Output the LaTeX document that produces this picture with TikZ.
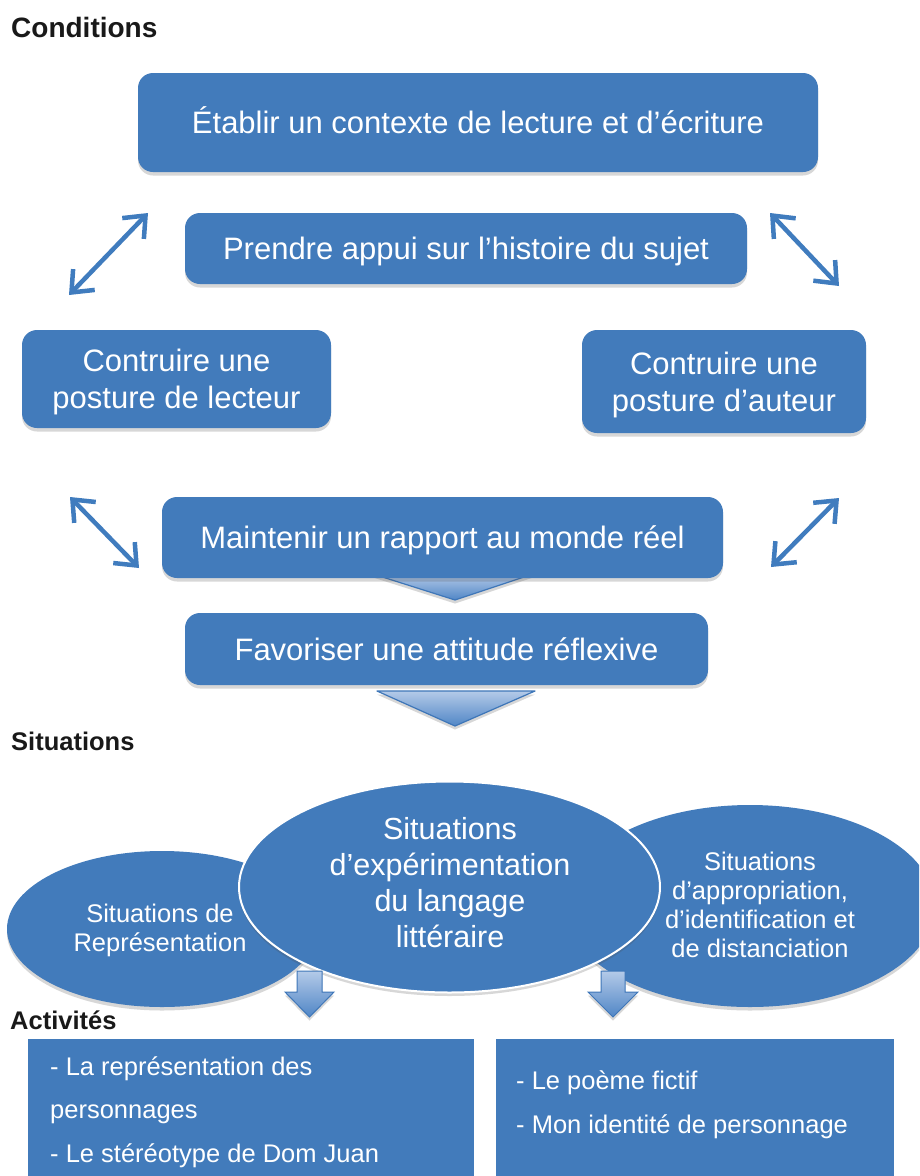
\documentclass[tikz,border=0pt]{standalone}
\usepackage{fontspec}
\setmainfont{Liberation Sans}
\usetikzlibrary{shapes.geometric,shadows,arrows.meta}
\definecolor{boxblue}{RGB}{66,123,187}
\definecolor{arrblue}{RGB}{64,124,190}
\definecolor{chevtop}{RGB}{180,202,232}
\definecolor{chevbot}{RGB}{80,134,198}
\definecolor{chevline}{RGB}{62,118,184}
\begin{document}
\begin{tikzpicture}[x=1pt,y=-1pt,
  softshadow/.style={drop shadow={shadow xshift=0pt,shadow yshift=-3.5pt,opacity=0.22,fill=black!70}},
  mainbox/.style={fill=boxblue, rounded corners=15pt, text=white, inner sep=0pt,
    font=\fontsize{31}{37}\selectfont, align=center, text depth=0pt, softshadow},
  oneline/.style={text height=22.3pt},
  sectlabel/.style={anchor=base west, inner sep=0pt, font=\bfseries\fontsize{25.5}{30}\selectfont, text=black!90},
  ellbox/.style={ellipse, fill=boxblue, inner sep=0pt, softshadow},
  elltext/.style={text=white, align=center, inner sep=0pt},
  actbox/.style={fill=boxblue, draw=none, softshadow},
  acttext/.style={anchor=base west, inner sep=0pt, text=white, font=\fontsize{25.5}{30}\selectfont},
  dblarrow/.style={arrblue, line width=4.5pt,
    {Straight Barb[length=18pt,width=30pt]}-{Straight Barb[length=18pt,width=30pt]}},
  chevron/.style={top color=chevtop, bottom color=chevbot, draw=chevline, line width=1.2pt, line join=round, softshadow},
  blockarrow/.style={top color=chevtop, bottom color=chevbot, draw=chevline, line width=1pt, softshadow}
]
\clip (0,0) rectangle (919,1176);
\fill[white] (0,0) rectangle (919,1176);

% section labels
\node[sectlabel, font=\bfseries\fontsize{28}{32}\selectfont] (lcond) at (11,37) {Conditions};
\node[sectlabel] (lsit) at (11,750) {Situations};
\node[sectlabel] (lact) at (10,1029) {Activités};

% chevrons (behind boxes)
\path[chevron] (373,574) -- (533,574) -- (455,600) -- cycle;
\path[chevron] (377,691) -- (535,691) -- (455,726) -- cycle;

% condition boxes
\node[mainbox, oneline, minimum width=680pt, minimum height=99pt] (b1) at (478,122.5)
  {Établir un contexte de lecture et d’écriture};
\node[mainbox, oneline, minimum width=562pt, minimum height=71pt] (b2) at (466,248.5)
  {Prendre appui sur l’histoire du sujet};
\node[mainbox, minimum width=309pt, minimum height=98pt] (b3) at (176.5,379)
  {Contruire une\\posture de lecteur};
\node[mainbox, minimum width=284pt, minimum height=103pt] (b4) at (724,381.5)
  {Contruire une\\posture d’auteur};
\node[mainbox, oneline, minimum width=561pt, minimum height=81pt] (b5) at (442.5,537.5)
  {Maintenir un rapport au monde réel};
\node[mainbox, oneline, minimum width=523pt, minimum height=72pt] (b6) at (446.5,649)
  {Favoriser une attitude réflexive};

% double arrows
\coordinate (a1s) at (148,213); \coordinate (a1e) at (69,295);
\coordinate (a2s) at (770,213); \coordinate (a2e) at (839,286);
\coordinate (a3s) at (70,497);  \coordinate (a3e) at (139,568);
\coordinate (a4s) at (839,498); \coordinate (a4e) at (771,567);
\draw[dblarrow] (a1s) -- (a1e);
\draw[dblarrow] (a2s) -- (a2e);
\draw[dblarrow] (a3s) -- (a3e);
\draw[dblarrow] (a4s) -- (a4e);

% situations ellipses
\node[ellbox, minimum width=310pt, minimum height=156pt] (eL) at (162,929) {};
\node[ellbox, minimum width=370pt, minimum height=202pt] (eR) at (750,906) {};
\node[ellbox, draw=white, line width=2pt, minimum width=421pt, minimum height=211pt] (eC) at (449.5,887) {};
\node[elltext, font=\fontsize{25.5}{29}\selectfont] (tL) at (160,930) {Situations de\\Représentation};
\node[elltext, font=\fontsize{25.5}{29}\selectfont] (tR) at (760,905) {Situations\\d’appropriation,\\d’identification et\\de distanciation};
\node[elltext, font=\fontsize{30.5}{36}\selectfont] (tC) at (450,883) {Situations\\d’expérimentation\\du langage\\littéraire};

% activity boxes
\path[actbox] (28,1039) rectangle (474,1200);
\path[actbox] (496,1039) rectangle (894,1200);
\node[acttext] (act1) at (50,1075) {- La représentation des};
\node[acttext] (act2) at (50,1118) {personnages};
\node[acttext] (act3) at (50,1162) {- Le stéréotype de Dom Juan};
\node[acttext] (act4) at (516,1089) {- Le poème fictif};
\node[acttext] (act5) at (516,1133) {- Mon identité de personnage};

% down block arrows
\path[blockarrow] (297,971) -- (322,971) -- (322,992) -- (334,992) -- (309.5,1017) -- (285,992) -- (297,992) -- cycle;
\path[blockarrow] (601,971) -- (625,971) -- (625,992) -- (638,992) -- (613,1017) -- (588,992) -- (601,992) -- cycle;
\end{tikzpicture}
\end{document}
